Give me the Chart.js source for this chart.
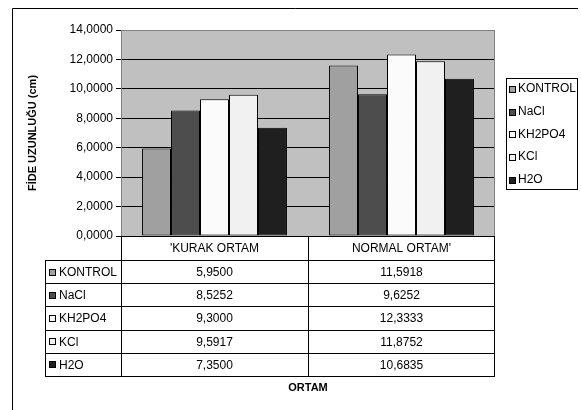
<!DOCTYPE html>
<html>
<head>
<meta charset="utf-8">
<script src="https://cdn.jsdelivr.net/npm/chart.js@4/dist/chart.umd.min.js"></script>
<style>
  html, body { margin: 0; padding: 0; background: #fff; }
  #wrap { width: 581px; height: 410px; }
</style>
</head>
<body>
<div id="wrap"><canvas id="c" width="581" height="410"></canvas></div>
<script>
// Categories and series values (seedling length, cm)
const categories = ["'KURAK ORTAM", "NORMAL ORTAM'"];
const seriesNames = ['KONTROL', 'NaCl', 'KH2PO4', 'KCl', 'H2O'];
const kontrol = [5.9500, 11.5918];
const nacl    = [8.5252, 9.6252];
const kh2po4  = [9.3000, 12.3333];
const kcl     = [9.5917, 11.8752];
const h2o     = [7.3500, 10.6835];
const yTicks  = [0, 2, 4, 6, 8, 10, 12, 14];

const seriesValues = [kontrol, nacl, kh2po4, kcl, h2o];
const seriesColors = ['#a0a0a0', '#4d4d4d', '#fbfbfb', '#f1f1f1', '#1f1f1f'];

const FONT = '"Liberation Sans", Arial, sans-serif';
const fmt = v => v.toFixed(4).replace('.', ',');

// Draws page frame, plot background, the category row, the data table and the legend
const sheetPlugin = {
  id: 'sheet',
  beforeDraw(chart) {
    const { ctx, chartArea: a } = chart;
    ctx.save();
    ctx.fillStyle = '#fff';
    ctx.fillRect(0, 0, chart.width, chart.height);
    ctx.fillStyle = '#c0c0c0';
    ctx.fillRect(a.left, a.top, a.right - a.left, a.bottom - a.top);
    ctx.restore();
  },
  afterDraw(chart) {
    const { ctx, chartArea: a } = chart;
    const xs = chart.scales.x;
    const ds = chart.data.datasets;
    ctx.save();
    ctx.lineWidth = 1;
    const line = (x1, y1, x2, y2, c) => {
      ctx.strokeStyle = c || '#000';
      ctx.beginPath();
      ctx.moveTo(x1, y1);
      ctx.lineTo(x2, y2);
      ctx.stroke();
    };

    // page frame
    line(12.5, 8.5, 578, 8.5);
    line(12.5, 8.5, 12.5, 410);

    // plot border
    line(a.left + 0.5, a.top + 0.5, a.right - 0.5, a.top + 0.5, '#808080');
    line(a.right - 0.5, a.top, a.right - 0.5, a.bottom, '#808080');

    // column edges from the category scale
    const n = chart.data.labels.length;
    const edges = [];
    for (let i = 0; i <= n; i++) {
      edges.push(Math.round(a.left + (a.right - a.left) * i / n));
    }
    const catTop = Math.round(a.bottom);
    const catBottom = catTop + 24;
    const rowH = 23.2;
    const tableLeft = 45;
    const tableBottom = Math.round(catBottom + rowH * ds.length);

    // verticals
    edges.forEach((x, i) => {
      const xx = (i === n ? x - 0.5 : x + 0.5);
      line(xx, catTop, xx, tableBottom);
    });
    line(tableLeft + 0.5, catBottom, tableLeft + 0.5, tableBottom);
    // horizontals
    for (let r = 0; r <= ds.length; r++) {
      const y = Math.round(catBottom + rowH * r) + 0.5;
      line(tableLeft, y, edges[n], y);
    }

    ctx.fillStyle = '#000';
    ctx.font = '12px ' + FONT;
    ctx.textBaseline = 'middle';
    ctx.textAlign = 'center';
    chart.data.labels.forEach((lab, i) => {
      const cx = xs.getPixelForValue(i);
      ctx.fillText(lab, cx, (catTop + catBottom) / 2 + 1);
    });

    const key = (x, y, s, color) => {
      ctx.fillStyle = color;
      ctx.fillRect(x, y, s, s);
      ctx.strokeStyle = '#000';
      ctx.strokeRect(x + 0.5, y + 0.5, s - 1, s - 1);
    };

    ds.forEach((d, r) => {
      const cy = catBottom + rowH * r + rowH / 2 + 1;
      key(49, Math.round(cy - 4), 7, d.backgroundColor);
      ctx.fillStyle = '#000';
      ctx.textAlign = 'left';
      ctx.fillText(d.label, 59, cy);
      ctx.textAlign = 'center';
      d.data.forEach((v, i) => {
        ctx.fillText(fmt(v), xs.getPixelForValue(i), cy);
      });
    });

    // axis title below the table
    ctx.font = 'bold 11px ' + FONT;
    ctx.fillText('ORTAM', edges[1], tableBottom + 12);

    // legend
    const lx = 506, ly = 78, lw = 71, lh = 111;
    ctx.fillStyle = '#fff';
    ctx.fillRect(lx, ly, lw, lh);
    ctx.strokeStyle = '#000';
    ctx.strokeRect(lx + 0.5, ly + 0.5, lw, lh);
    ctx.font = '12px ' + FONT;
    ds.forEach((d, r) => {
      const cy = 89 + r * 22.7;
      key(509, Math.round(cy - 3), 7, d.backgroundColor);
      ctx.fillStyle = '#000';
      ctx.textAlign = 'left';
      ctx.fillText(d.label, 518, cy);
    });
    ctx.restore();
  }
};

new Chart(document.getElementById('c'), {
  type: 'bar',
  data: {
    labels: categories,
    datasets: seriesNames.map((name, i) => ({
      label: name,
      data: seriesValues[i],
      backgroundColor: seriesColors[i],
      borderColor: '#000',
      borderWidth: 1,
      borderSkipped: false,
      categoryPercentage: 0.775,
      barPercentage: 1.0
    }))
  },
  options: {
    responsive: false,
    animation: false,
    devicePixelRatio: 1,
    layout: { padding: { left: 22, top: 30, right: 86, bottom: 174 } },
    plugins: {
      legend: { display: false },
      tooltip: { enabled: false }
    },
    scales: {
      x: { display: false },
      y: {
        min: yTicks[0],
        max: yTicks[yTicks.length - 1],
        afterBuildTicks: s => { s.ticks = yTicks.map(v => ({ value: v })); },
        afterFit: s => { s.width = 99; },
        ticks: {
          callback: v => fmt(v),
          color: '#000',
          font: { family: FONT, size: 12 },
          padding: 3
        },
        grid: {
          color: c => (c.tick && c.tick.value === 14 ? '#808080' : '#000'),
          tickColor: '#000',
          tickLength: 5,
          lineWidth: 1
        },
        border: { color: '#808080' },
        title: {
          display: true,
          text: 'FİDE UZUNLUĞU (cm)',
          color: '#000',
          font: { family: FONT, size: 11, weight: 'bold' },
          padding: 4
        }
      }
    }
  },
  plugins: [sheetPlugin]
});
</script>
</body>
</html>
